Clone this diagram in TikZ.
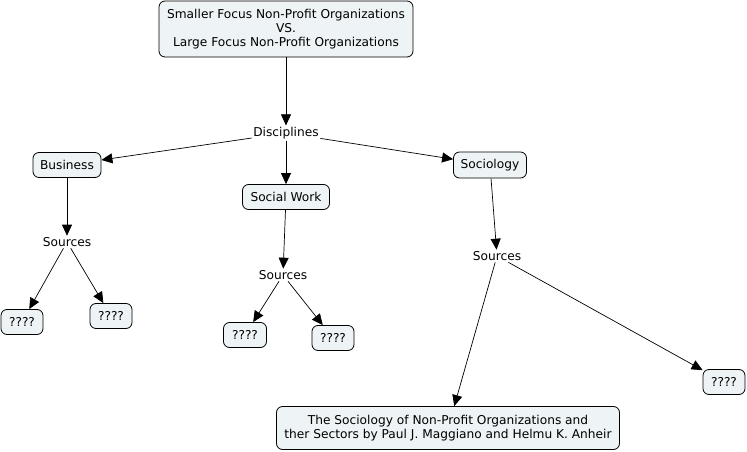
\documentclass[tikz,border=0pt]{standalone}
\usepackage{fontspec}
\setmainfont{DejaVu Sans}
\usetikzlibrary{arrows.meta}
\definecolor{boxfill}{HTML}{EEF3F5}
\begin{document}
\begin{tikzpicture}[x=1pt,y=-1pt,
  every node/.style={font=\fontsize{12.2}{14}\selectfont, text=black},
  cbox/.style={draw=black, fill=boxfill, rounded corners=6pt, line width=0.8pt, inner sep=0pt, align=center},
  lbl/.style={inner sep=1.5pt},
  conn/.style={-{Triangle[length=11pt,width=10pt]}, line width=0.7pt}]
\useasboundingbox (0,0) rectangle (747,452);
\node[cbox, minimum width=254pt, minimum height=56pt] (top) at (286,29) {Smaller Focus Non-Profit Organizations\\VS.\\Large Focus Non-Profit Organizations};
\node[lbl] (disc) at (286,133) {Disciplines};
\node[cbox, minimum width=68pt, minimum height=25pt] (bus) at (67,165) {Business};
\node[cbox, minimum width=87pt, minimum height=25pt] (sw) at (286,197) {Social Work};
\node[cbox, minimum width=73pt, minimum height=26pt] (soc) at (490,165) {Sociology};
\node[lbl] (src1) at (67,242) {Sources};
\node[lbl] (src2) at (283,275) {Sources};
\node[lbl] (src3) at (497,256) {Sources};
\node[cbox, minimum width=42pt, minimum height=25pt] (q1) at (22,322) {????};
\node[cbox, minimum width=42pt, minimum height=25pt] (q2) at (111,316) {????};
\node[cbox, minimum width=43pt, minimum height=25pt] (q3) at (245,335) {????};
\node[cbox, minimum width=42pt, minimum height=25pt] (q4) at (333,338) {????};
\node[cbox, minimum width=42pt, minimum height=25pt] (q5) at (724,382) {????};
\node[cbox, minimum width=343pt, minimum height=43pt] (book) at (448,428) {The Sociology of Non-Profit Organizations and\\ther Sectors by Paul J. Maggiano and Helmu K. Anheir};
\draw[conn] (top) -- (disc);
\draw[conn] (disc) -- (bus);
\draw[conn] (disc) -- (sw);
\draw[conn] (disc) -- (soc);
\draw[conn] (bus) -- (src1);
\draw[conn] (sw) -- (src2);
\draw[conn] (soc) -- (src3);
\draw[conn] (src1) -- (q1);
\draw[conn] (src1) -- (q2);
\draw[conn] (src2) -- (q3);
\draw[conn] (src2) -- (q4);
\draw[conn] (src3) -- (book);
\draw[conn] (src3) -- (q5);
\end{tikzpicture}
\end{document}
